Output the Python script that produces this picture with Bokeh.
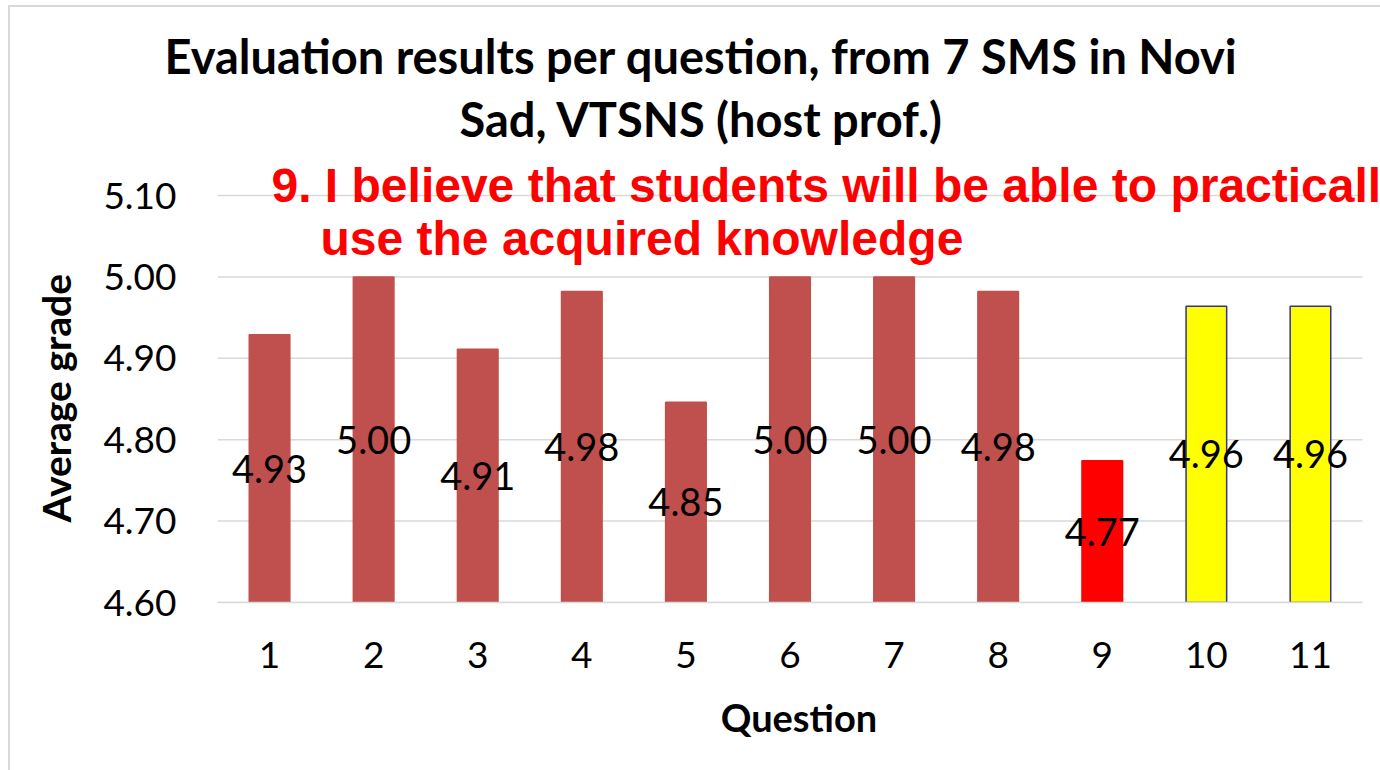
from bokeh.plotting import figure
from bokeh.models import Range1d, FixedTicker, Label, Title, ColumnDataSource, NumeralTickFormatter
from bokeh.core.properties import value
from bokeh.embed import file_html
from bokeh.resources import INLINE

# ---- data ----
questions = [1, 2, 3, 4, 5, 6, 7, 8, 9, 10, 11]
averages = [4.929, 5.000, 4.911, 4.982, 4.846, 5.000, 5.000, 4.982, 4.774, 4.964, 4.964]
y_ticks = [4.60, 4.70, 4.80, 4.90, 5.00, 5.10]
title_lines = ["Evaluation results per question, from 7 SMS in Novi",
               "Sad, VTSNS (host prof.)"]
note_lines = ["9. I believe that students will be able to practicall",
              "use the acquired knowledge"]
x_title = "Question"
y_title = "Average grade"
highlight_q = 9
extra_q = [10, 11]

# ---- geometry (page pixels) ----
OX, OY = 10, 7                      # figure origin on the page
W, H = 1380 - OX, 770 - OY
PL, PR, PT, PB = 217, 1362, 195, 602  # 4.60-5.10 / 0.5-11.5 area
FT = 150                              # top of the drawing frame
X0, X1 = 0.5, len(questions) + 0.5
Y0, Y1 = y_ticks[0], y_ticks[-1]
XS = (X1 - X0) / (PR - PL)
YS = (Y1 - Y0) / (PB - PT)
x_end = X1 + (OX + W - PR) * XS
y_end = Y1 + (PT - FT) * YS


def dx(px):
    return X0 + (px - PL) * XS


def dy(py):
    return Y0 + (PB - py) * YS


p = figure(width=W, height=H, x_range=Range1d(X0, x_end), y_range=Range1d(Y0, y_end),
           output_backend="svg", toolbar_location=None,
           min_border_left=PL - OX, min_border_right=0,
           min_border_top=FT - OY, min_border_bottom=OY + H - PB)
p.outline_line_color = None
p.background_fill_color = "white"
p.border_fill_color = "white"
p.styles = {"margin-left": f"{OX}px", "margin-top": f"{OY}px",
            "outline": "2px solid #d9d9d9"}

fills, lines = [], []
for q in questions:
    if q == highlight_q:
        fills.append("#FF0000"); lines.append("#FF0000")
    elif q in extra_q:
        fills.append("#FFFF00"); lines.append("#333399")
    else:
        fills.append("#C0504D"); lines.append("#C0504D")

src = ColumnDataSource(dict(
    x=questions, top=averages,
    mid=[(Y0 + v) / 2 for v in averages],
    label=[f"{v:.2f}" for v in averages],
    fill=fills, line=lines))

# horizontal grid lines, limited to the category span
p.segment(x0=X0, x1=X1, y0=y_ticks, y1=y_ticks, line_color="#D9D9D9", line_width=1.5)

p.vbar(x="x", top="top", bottom=Y0, width=0.39, source=src,
       fill_color="fill", line_color="line", line_width=1.5)
p.text(x="x", y="mid", text="label", source=src, text_align="center",
       text_baseline="middle", text_font=value("Lato"),
       text_font_size=value("38px"), text_color="black")

# axes
p.xgrid.grid_line_color = None
p.ygrid.grid_line_color = None

p.yaxis.ticker = FixedTicker(ticks=y_ticks)
p.yaxis.formatter = NumeralTickFormatter(format="0.00")
p.yaxis.axis_line_color = None
p.yaxis.major_tick_line_color = None
p.yaxis.minor_tick_line_color = None
p.yaxis.major_tick_out = 0
p.yaxis.major_label_standoff = 41
p.yaxis.major_label_text_font = "Lato"
p.yaxis.major_label_text_font_size = "37px"
p.yaxis.major_label_text_color = "black"

p.xaxis.ticker = FixedTicker(ticks=questions)
p.xaxis.bounds = (X0, X1)
p.xaxis.axis_line_color = "#D9D9D9"
p.xaxis.axis_line_width = 1.5
p.xaxis.major_tick_line_color = None
p.xaxis.minor_tick_line_color = None
p.xaxis.major_tick_out = 0
p.xaxis.major_label_standoff = 39
p.xaxis.major_label_text_font = "Lato"
p.xaxis.major_label_text_font_size = "37px"
p.xaxis.major_label_text_color = "black"
p.xaxis.axis_label = x_title
p.xaxis.axis_label_text_font = "Lato"
p.xaxis.axis_label_text_font_style = "bold"
p.xaxis.axis_label_text_font_size = "38px"
p.xaxis.axis_label_text_color = "black"
p.xaxis.axis_label_standoff = 23

# y-axis title, centred on the 4.60-5.10 span
p.add_layout(Title(text=y_title, align="left", offset=PB - PT - 327 + 0, vertical_align="middle",
                   standoff=41, text_font="Lato", text_font_style="bold",
                   text_font_size="39px", text_color="black"), "left")

# chart title: two lines, centred at page x = 700 (second line added first = nearer the frame)
title_widths = [1072, 482]
for txt, w, so in reversed(list(zip(title_lines, title_widths, [3, 7]))):
    p.add_layout(Title(text=txt, align="left", offset=700 - w / 2 - PL,
                       vertical_align="bottom", standoff=so,
                       text_font="Lato", text_font_style="bold",
                       text_font_size="47px", text_color="black"), "above")

# red note
for txt, left, base in zip(note_lines, [271, 320], [185, 238]):
    p.add_layout(Label(x=dx(left), y=dy(base), text=txt, text_align="left",
                       text_baseline="alphabetic", text_font="Liberation Sans",
                       text_font_style="bold", text_font_size="48px",
                       text_color="#FF0000"))

open("out.html", "w").write(file_html(p, INLINE))
